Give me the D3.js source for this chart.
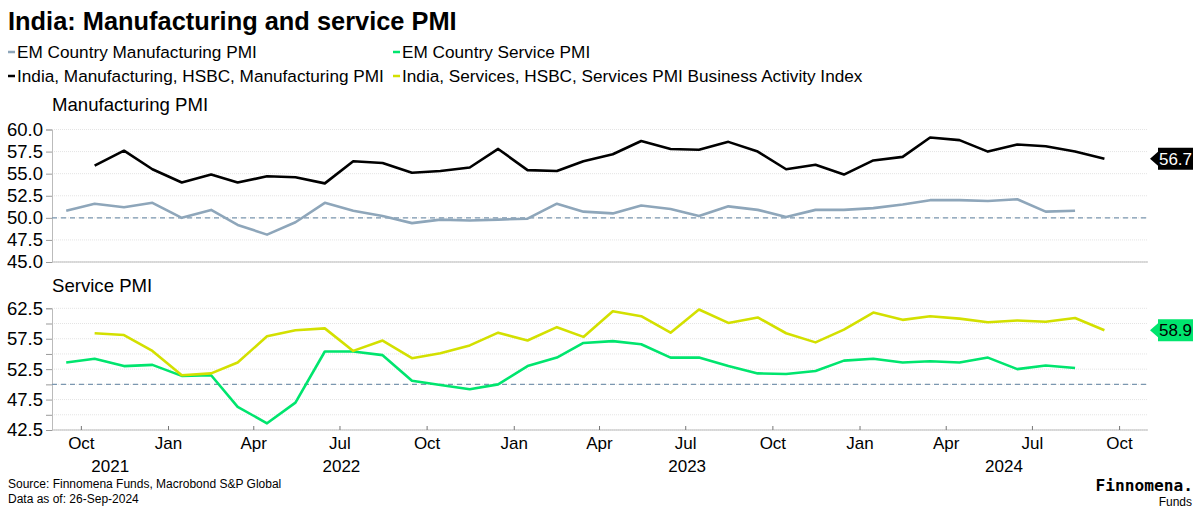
<!DOCTYPE html>
<html><head><meta charset="utf-8">
<script src="https://cdn.jsdelivr.net/npm/d3@7"></script>
<style>
html,body{margin:0;padding:0;background:#fff;}
svg{display:block;font-family:"Liberation Sans",Arial,sans-serif;}
</style></head>
<body>
<svg id="chart" width="1200" height="514"></svg>
<script>
// ---- data ----
const emMfgStart = "2021-09";
const emMfg = [50.8,51.6,51.2,51.7,50.0,50.9,49.2,48.1,49.5,51.7,50.8,50.2,
  49.4,49.8,49.7,49.8,49.9,51.6,50.7,50.5,51.4,51.0,50.2,51.3,
  50.9,50.1,50.9,50.9,51.1,51.5,52.0,52.0,51.9,52.1,50.7,50.8];
const indiaMfgStart = "2021-10";
const indiaMfg = [55.9,57.6,55.5,54.0,54.9,54.0,54.7,54.6,53.9,56.4,56.2,55.1,
  55.3,55.7,57.8,55.4,55.3,56.4,57.2,58.7,57.8,57.7,58.6,57.5,
  55.5,56.0,54.9,56.5,56.9,59.1,58.8,57.5,58.3,58.1,57.5,56.7];
const emSvcStart = "2021-09";
const emSvc = [53.6,54.2,53.0,53.2,51.4,51.5,46.3,43.6,47.0,55.4,55.4,54.8,
  50.6,49.9,49.2,50.0,53.0,54.4,56.8,57.1,56.6,54.4,54.4,53.0,
  51.8,51.7,52.2,53.9,54.2,53.6,53.8,53.6,54.4,52.5,53.1,52.7];
const indiaSvcStart = "2021-10";
const indiaSvc = [58.4,58.1,55.5,51.5,51.8,53.6,57.9,58.9,59.2,55.5,57.2,54.3,
  55.1,56.4,58.5,57.2,59.4,57.8,62.0,61.2,58.5,62.3,60.1,61.0,
  58.4,56.9,59.0,61.8,60.6,61.2,60.8,60.2,60.5,60.3,60.9,58.9];
const mfgTicks = [45.0,47.5,50.0,52.5,55.0,57.5,60.0];
const svcTicks = [42.5,45,47.5,50,52.5,55,57.5,60,62.5];
const svcTickLabels = [42.5,47.5,52.5,57.5,62.5];
const monthTicks = ["2021-10","2022-01","2022-04","2022-07","2022-10","2023-01","2023-04","2023-07","2023-10","2024-01","2024-04","2024-07","2024-10"];
const monthNames = ["Oct","Jan","Apr","Jul","Oct","Jan","Apr","Jul","Oct","Jan","Apr","Jul","Oct"];
const years = ["2021","2022","2023","2024"];
const legendItems = [
  {name:"EM Country Manufacturing PMI", color:"#8ea6ba"},
  {name:"EM Country Service PMI", color:"#00e56e"},
  {name:"India, Manufacturing, HSBC, Manufacturing PMI", color:"#000000"},
  {name:"India, Services, HSBC, Services PMI Business Activity Index", color:"#d3e000"}
];
const thresholdValue = 50;

// ---- helpers ----
const parseM = d3.timeParse("%Y-%m");
function series(start, vals){
  const s = parseM(start);
  return vals.map((v,i)=>({date:new Date(s.getFullYear(), s.getMonth()+i, 15), value:v}));
}
const svg = d3.select("#chart");
const x = d3.scaleTime().domain([new Date(2021,7,31), new Date(2024,9,31)]).range([52,1148]);
const yM = d3.scaleLinear().domain([45,60]).range([262,129.5]);
const yS = d3.scaleLinear().domain([42.5,62.5]).range([430,308.3]);

// title
svg.append("text").attr("x",8).attr("y",30).attr("font-size",25.4).attr("font-weight","bold").text("India: Manufacturing and service PMI");

// legend
legendItems.forEach((d,i)=>{
  const col = i%2, row = Math.floor(i/2);
  const lx = col===0 ? 8 : 393, ly = 58 + row*24;
  svg.append("line").attr("x1",lx).attr("x2",lx+7).attr("y1",ly-6).attr("y2",ly-6).attr("stroke",d.color).attr("stroke-width",2.5);
  svg.append("text").attr("x",lx+9).attr("y",ly).attr("font-size",17.2).text(d.name);
});

function panel(y, ticks, labelTicks, fmt, sub, subY, seriesList, label){
  // subtitle
  svg.append("text").attr("x",52).attr("y",subY).attr("font-size",18.6).text(sub);
  // grid
  svg.append("g").selectAll("line").data(ticks).join("line")
    .attr("x1",52).attr("x2",1148).attr("y1",d=>y(d)).attr("y2",d=>y(d))
    .attr("stroke","#e4e4e4").attr("stroke-width",1).attr("stroke-dasharray","1,1");
  // y axis
  const ax = svg.append("g").attr("transform","translate(52,0)")
    .call(d3.axisLeft(y).tickValues(ticks).tickSize(6).tickPadding(3).tickFormat(d=>labelTicks.includes(d)?fmt(d):""));
  ax.select(".domain").attr("stroke","#bbbbbb");
  ax.selectAll(".tick line").attr("stroke","#999999");
  ax.selectAll("text").attr("font-size",18.5).attr("fill","#000").attr("font-family","Liberation Sans, Arial, sans-serif");
  // bottom line
  svg.append("line").attr("x1",52).attr("x2",1148).attr("y1",y.range()[0]).attr("y2",y.range()[0]).attr("stroke","#bbbbbb");
  // threshold
  svg.append("line").attr("x1",52).attr("x2",1148).attr("y1",y(thresholdValue)).attr("y2",y(thresholdValue))
    .attr("stroke","#7b97b0").attr("stroke-width",1.3).attr("stroke-dasharray","5,4");
  // lines
  const line = d3.line().x(d=>x(d.date)).y(d=>y(d.value));
  seriesList.forEach(s=>{
    svg.append("path").datum(s.data).attr("fill","none").attr("stroke",s.color).attr("stroke-width",2.6)
      .attr("stroke-linejoin","round").attr("d",line);
  });
  // value label
  const last = label.data[label.data.length-1];
  const cy = y(last.value);
  svg.append("path").attr("d",`M1150,${cy} L1158,${cy-7} L1158,${cy-11} L1193,${cy-11} L1193,${cy+11} L1158,${cy+11} L1158,${cy+7} Z`).attr("fill",label.color);
  svg.append("text").attr("x",1175.5).attr("y",cy+6).attr("text-anchor","middle").attr("font-size",17)
    .attr("fill",label.text).text(last.value.toFixed(1));
}

const sEmMfg = series(emMfgStart, emMfg), sInMfg = series(indiaMfgStart, indiaMfg);
const sEmSvc = series(emSvcStart, emSvc), sInSvc = series(indiaSvcStart, indiaSvc);
const f1 = d3.format(".1f");
panel(yM, mfgTicks, mfgTicks, f1, "Manufacturing PMI", 111,
  [{data:sEmMfg,color:"#8ea6ba"},{data:sInMfg,color:"#000"}], {data:sInMfg,color:"#000",text:"#fff"});
panel(yS, svcTicks, svcTickLabels, f1, "Service PMI", 292,
  [{data:sEmSvc,color:"#00e56e"},{data:sInSvc,color:"#d3e000"}], {data:sInSvc,color:"#00e56e",text:"#000"});

// x axis (bottom)
const mt = monthTicks.map(parseM);
const xa = svg.append("g");
xa.selectAll("line").data(mt).join("line").attr("x1",d=>x(d)).attr("x2",d=>x(d)).attr("y1",430).attr("y2",426).attr("stroke","#777");
xa.selectAll("text.m").data(mt).join("text").attr("class","m").attr("x",d=>x(d)).attr("y",449).attr("text-anchor","middle")
  .attr("font-size",17).text((d,i)=>monthNames[i]);
const [d0,d1] = x.domain();
years.forEach(yv=>{
  const a = new Date(+yv,0,1), b = new Date(+yv+1,0,1);
  const lo = Math.max(x(a), x(d0)), hi = Math.min(x(b), x(d1));
  svg.append("text").attr("x",(lo+hi)/2).attr("y",472).attr("text-anchor","middle").attr("font-size",17).text(yv);
});

// footer
svg.append("text").attr("x",8).attr("y",488).attr("font-size",12).text("Source: Finnomena Funds, Macrobond S&P Global");
svg.append("text").attr("x",8).attr("y",503).attr("font-size",12).text("Data as of: 26-Sep-2024");
svg.append("text").attr("x",1193).attr("y",491).attr("text-anchor","end").attr("font-size",16.2).attr("font-weight","bold")
  .attr("font-family","DejaVu Sans Mono, monospace").text("Finnomena.");
svg.append("text").attr("x",1192).attr("y",506).attr("text-anchor","end").attr("font-size",12).text("Funds");
</script>
</body></html>
